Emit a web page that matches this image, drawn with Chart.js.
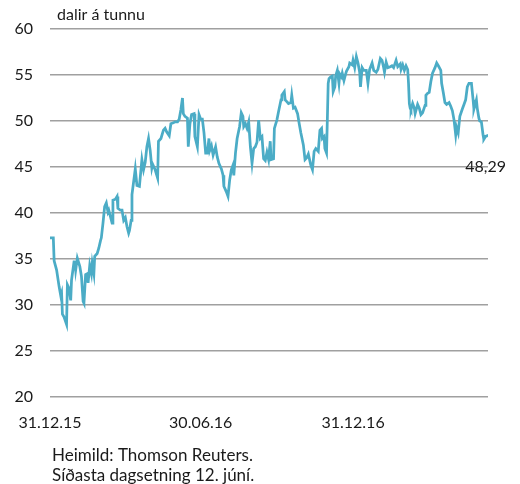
<!DOCTYPE html>
<html>
<head>
<meta charset="utf-8">
<script src="https://cdn.jsdelivr.net/npm/chart.js@4.4.1/dist/chart.umd.min.js"></script>
<style>
  html, body { margin: 0; padding: 0; background: #fff; }
  #wrap { width: 520px; height: 484px; position: relative; }
</style>
</head>
<body>
<div id="wrap"><canvas id="oilChart" width="520" height="484"></canvas></div>
<script>
// days counted from 31.12.15, price in dollars per barrel
const days = [0, 4, 5, 8, 11, 13, 14, 15, 17, 20, 21, 23, 25, 26, 29, 30, 31, 33, 36, 38, 40, 41, 43, 45, 46, 48, 50, 51, 53, 54, 57, 59, 61, 62, 64, 66, 68, 70, 71, 73, 75, 76, 79, 81, 82, 85, 87, 89, 91, 93, 95, 96, 98, 99, 103, 105, 108, 111, 113, 115, 117, 119, 121, 123, 124, 127, 130, 131, 134, 137, 139, 141, 144, 146, 149, 151, 154, 156, 158, 160, 161, 163, 166, 167, 169, 171, 174, 175, 178, 180, 182, 184, 186, 188, 190, 192, 193, 195, 197, 200, 202, 204, 207, 209, 210, 213, 215, 217, 219, 221, 222, 224, 226, 229, 231, 233, 234, 236, 238, 240, 242, 244, 246, 248, 250, 252, 254, 256, 258, 260, 262, 264, 266, 267, 270, 271, 274, 276, 279, 280, 283, 284, 286, 288, 291, 292, 294, 296, 299, 301, 303, 306, 308, 310, 312, 315, 317, 319, 321, 324, 326, 328, 329, 331, 332, 334, 336, 337, 339, 341, 342, 344, 345, 347, 349, 350, 352, 353, 355, 357, 358, 361, 362, 365, 366, 368, 370, 372, 374, 375, 377, 379, 382, 384, 386, 389, 391, 394, 396, 399, 401, 403, 404, 406, 408, 411, 413, 415, 418, 420, 423, 424, 426, 428, 430, 432, 433, 434, 435, 436, 438, 440, 441, 444, 446, 448, 450, 453, 454, 456, 458, 460, 462, 465, 467, 469, 472, 473, 475, 477, 479, 482, 484, 486, 488, 490, 491, 493, 495, 498, 500, 502, 504, 506, 509, 511, 512, 515, 516, 518, 519, 521, 523, 524, 526, 528, 529];
const prices = [37.3, 37.3, 34.8, 33.8, 32.0, 31.0, 31.3, 29.0, 28.7, 27.9, 32.2, 31.8, 30.5, 32.7, 34.7, 34.8, 33.8, 35.1, 34.2, 33.1, 30.4, 30.2, 33.3, 33.4, 32.4, 34.3, 33.4, 34.5, 33.4, 35.3, 35.6, 36.2, 37.0, 37.3, 38.9, 40.7, 41.1, 40.1, 40.3, 39.6, 38.9, 41.4, 41.5, 41.8, 40.5, 40.3, 40.3, 39.2, 39.5, 38.5, 37.8, 38.1, 39.2, 42.0, 44.8, 43.0, 42.9, 45.8, 44.7, 45.5, 47.2, 48.1, 46.8, 44.9, 45.3, 44.7, 43.8, 47.8, 48.1, 49.0, 49.2, 48.8, 48.4, 49.7, 49.8, 49.9, 49.9, 50.2, 51.2, 52.5, 50.8, 50.5, 50.3, 47.2, 49.7, 50.7, 50.8, 48.3, 47.2, 50.7, 50.2, 50.2, 48.7, 46.5, 46.5, 48.1, 46.8, 47.3, 46.3, 47.2, 46.1, 45.4, 44.8, 44.1, 42.9, 42.3, 41.8, 43.6, 44.7, 45.2, 44.1, 46.5, 48.1, 49.4, 50.9, 50.5, 49.4, 49.7, 49.2, 49.9, 47.2, 45.4, 47.0, 47.2, 47.7, 50.1, 48.1, 48.3, 45.9, 45.7, 46.6, 45.8, 47.8, 45.8, 45.9, 49.2, 50.1, 51.0, 52.3, 52.8, 53.2, 52.3, 52.1, 51.9, 52.0, 52.8, 51.4, 51.5, 50.8, 49.7, 48.7, 47.4, 45.8, 46.0, 46.4, 45.2, 44.7, 46.7, 47.0, 46.7, 49.0, 49.2, 48.1, 48.3, 47.0, 46.5, 54.1, 54.6, 54.8, 54.9, 53.2, 53.7, 54.9, 55.5, 54.1, 55.1, 54.8, 55.2, 54.4, 55.1, 55.4, 55.9, 56.3, 56.1, 56.6, 55.8, 57.0, 56.3, 55.3, 53.7, 55.8, 55.5, 55.5, 54.1, 55.6, 56.3, 55.5, 55.3, 55.6, 56.8, 56.6, 55.8, 55.3, 56.4, 55.8, 55.9, 56.0, 55.8, 56.6, 55.9, 56.2, 55.6, 56.1, 55.5, 56.0, 55.6, 54.1, 51.9, 51.4, 51.2, 51.9, 51.4, 50.8, 51.8, 51.4, 50.7, 50.9, 51.7, 52.8, 53.0, 53.1, 54.3, 55.2, 55.8, 56.3, 56.0, 55.5, 54.1, 53.1, 52.0, 51.8, 52.0, 51.6, 51.1, 50.1, 48.5, 49.3, 48.7, 50.5, 51.3, 51.8, 52.3, 53.7, 54.1, 54.1, 52.3, 51.3, 52.3, 51.4, 50.3, 50.0, 49.9, 48.5, 48.0, 48.3, 48.4, 48.29];
const tickDays = [0, 182, 366];
const tickLabels = ['31.12.15', '30.06.16', '31.12.16'];
const unitLabel = 'dalir á tunnu';
const lastLabel = '48,29';
const sourceLines = ['Heimild: Thomson Reuters.', 'Síðasta dagsetning 12. júní.'];

const FONT = "Lato, 'Open Sans', sans-serif";

const textPlugin = {
  id: 'texts',
  afterDraw(chart) {
    const { ctx, chartArea, scales } = chart;
    ctx.save();
    ctx.fillStyle = '#1a1a1a';
    ctx.font = '16px ' + FONT;
    ctx.textBaseline = 'middle';
    ctx.textAlign = 'left';
    ctx.fillText(unitLabel, chartArea.left + 7, 15);
    // last value label under the end of the line
    const x = scales.x.getPixelForValue(days[days.length - 1]);
    const y = scales.y.getPixelForValue(45);
    ctx.textAlign = 'right';
    ctx.fillText(lastLabel, x + 18, y);
    ctx.textAlign = 'left';
    ctx.font = '17px ' + FONT;
    sourceLines.forEach((t, i) => ctx.fillText(t, chartArea.left + 2, 456 + i * 20));
    ctx.restore();
  }
};

new Chart(document.getElementById('oilChart'), {
  type: 'line',
  data: {
    datasets: [{
      data: days.map((d, i) => ({ x: d, y: prices[i] })),
      borderColor: '#4bacc6',
      borderWidth: 2.75,
      pointRadius: 0,
      tension: 0,
      fill: false
    }]
  },
  options: {
    responsive: false,
    animation: false,
    layout: { padding: { top: 29, right: 32, left: 0, bottom: 0 } },
    plugins: { legend: { display: false }, tooltip: { enabled: false } },
    scales: {
      x: {
        type: 'linear',
        min: 0,
        max: days[days.length - 1],
        grid: { display: false },
        border: { display: false },
        afterFit(s) { s.height = 87; },
        afterBuildTicks(s) { s.ticks = tickDays.map(v => ({ value: v })); },
        ticks: {
          color: '#1a1a1a',
          font: { family: FONT, size: 16 },
          padding: 8,
          maxRotation: 0,
          autoSkip: false,
          callback: (v) => tickLabels[tickDays.indexOf(v)]
        }
      },
      y: {
        min: 20,
        max: 60,
        afterFit(s) { s.width = 50; },
        grid: { color: '#a0a0a0', lineWidth: 1.5, drawTicks: false },
        border: { display: false },
        ticks: {
          stepSize: 5,
          color: '#1a1a1a',
          font: { family: FONT, size: 16 },
          padding: 17
        }
      }
    }
  },
  plugins: [textPlugin]
});
</script>
</body>
</html>
